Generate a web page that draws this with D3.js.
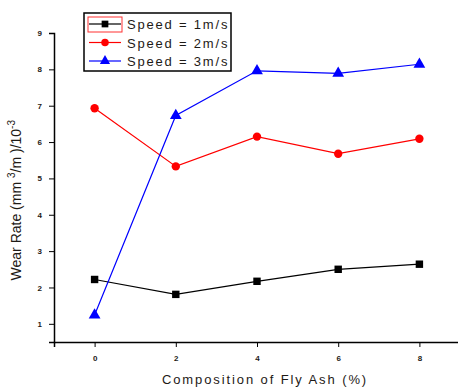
<!DOCTYPE html>
<html>
<head>
<meta charset="utf-8">
<script src="https://cdn.jsdelivr.net/npm/d3@7"></script>
<style>
  body { margin: 0; background: #fff; }
  text { font-family: "Liberation Sans", Arial, sans-serif; fill: #1e1a16; }
</style>
</head>
<body>
<svg id="chart"></svg>
<script>
var width = 458;
var height = 387;

// data
var flyAsh = [0, 2, 4, 6, 8];
var speed1 = [2.22, 1.81, 2.17, 2.50, 2.64];
var speed2 = [6.93, 5.33, 6.15, 5.68, 6.09];
var speed3 = [1.24, 6.73, 7.96, 7.89, 8.14];
var seriesNames = ["Speed = 1m/s", "Speed = 2m/s", "Speed = 3m/s"];
var seriesColors = ["#000000", "#ff0000", "#0000ff"];
var seriesShapes = [d3.symbolSquare, d3.symbolCircle, d3.symbolTriangle];
var yTicks = [1, 2, 3, 4, 5, 6, 7, 8, 9];
var xTicks = [0, 2, 4, 6, 8];

var margin = {left: 54, top: 33, bottom: 45};

var svg = d3.select("#chart").attr("width", width).attr("height", height);

var x = d3.scaleLinear().domain([-1, 9]).range([margin.left, margin.left + 406]);
var y = d3.scaleLinear().domain([0.5, 9]).range([height - margin.bottom, margin.top]);

// y axis
var yAxis = svg.append("g").attr("transform", "translate(" + margin.left + ",0)");
yAxis.call(d3.axisLeft(y).tickValues(d3.range(0.5, 9.01, 0.5)).tickSize(3).tickFormat(""));
yAxis.call(d3.axisLeft(y).tickValues(yTicks).tickSize(5).tickPadding(7).tickFormat(d3.format("d")));
yAxis.selectAll(".domain").attr("stroke", "#000").attr("stroke-width", 1.5);
yAxis.selectAll("text").style("font-size", "8px").style("font-weight", "bold").attr("fill", "#3a3020");

// x axis
var xAxis = svg.append("g").attr("transform", "translate(0," + (height - margin.bottom) + ")");
xAxis.call(d3.axisBottom(x).tickValues([-1, 1, 3, 5, 7]).tickSize(3).tickFormat(""));
xAxis.call(d3.axisBottom(x).tickValues(xTicks).tickSize(5).tickPadding(8).tickFormat(d3.format("d")));
xAxis.selectAll(".domain").attr("stroke", "#000").attr("stroke-width", 1.5);
xAxis.selectAll("text").style("font-size", "8px").style("font-weight", "bold").attr("fill", "#3a3020");

// axis titles
svg.append("text")
  .attr("transform", "translate(21," + y(4.4) + ") rotate(-90)")
  .attr("text-anchor", "middle")
  .style("font-size", "14px")
  .html('Wear Rate (mm <tspan dy="-6" font-size="10">3</tspan><tspan dy="6">/m )/10</tspan><tspan dy="-6" font-size="10">-3</tspan>');

svg.append("text")
  .attr("x", 265)
  .attr("y", 384)
  .attr("text-anchor", "middle")
  .style("font-size", "13px")
  .style("letter-spacing", "1.9px")
  .text("Composition of Fly Ash (%)");

// series
var allSeries = [speed1, speed2, speed3];
var line = d3.line()
  .x(function(d, i) { return x(flyAsh[i]); })
  .y(function(d) { return y(d); });

allSeries.forEach(function(vals, s) {
  svg.append("path")
    .datum(vals)
    .attr("d", line)
    .attr("fill", "none")
    .attr("stroke", seriesColors[s])
    .attr("stroke-width", 1.2);
  svg.append("g").selectAll("path")
    .data(vals)
    .enter()
    .append("path")
      .attr("transform", function(d, i) { return "translate(" + x(flyAsh[i]) + "," + y(d) + ")"; })
      .attr("d", d3.symbol().type(seriesShapes[s]).size(s == 2 ? 60 : 55))
      .attr("fill", seriesColors[s]);
});

// legend
var legend = svg.append("g").attr("transform", "translate(84,13)");
legend.append("rect")
  .attr("width", 147).attr("height", 58)
  .attr("fill", "#fff").attr("stroke", "#000").attr("stroke-width", 1.5);
legend.append("rect")
  .attr("x", 4).attr("y", 4).attr("width", 34).attr("height", 15)
  .attr("fill", "none").attr("stroke", "#ff3030").attr("stroke-width", 1);

seriesNames.forEach(function(name, s) {
  var ly = 11 + s * 18.5;
  legend.append("line")
    .attr("x1", 5).attr("x2", 37).attr("y1", ly).attr("y2", ly)
    .attr("stroke", seriesColors[s]).attr("stroke-width", 1.2);
  legend.append("path")
    .attr("transform", "translate(21," + ly + ")")
    .attr("d", d3.symbol().type(seriesShapes[s]).size(45))
    .attr("fill", seriesColors[s]);
  legend.append("text")
    .attr("x", 43).attr("y", ly + 5)
    .style("font-size", "13px")
    .style("letter-spacing", "1.8px")
    .text(name);
});
</script>
</body>
</html>
